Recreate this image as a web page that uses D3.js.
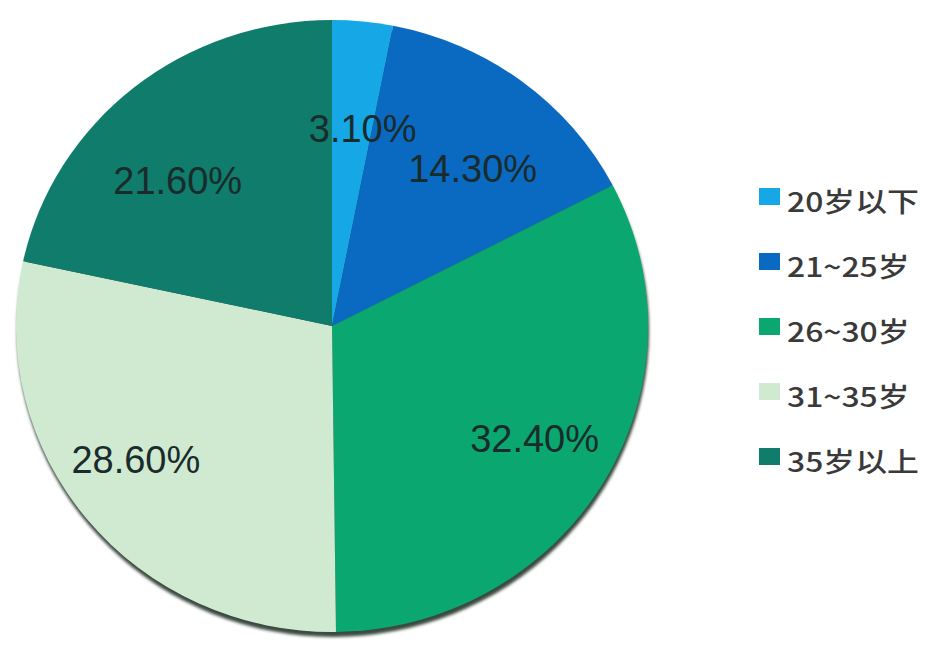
<!DOCTYPE html>
<html><head><meta charset="utf-8">
<script src="https://cdn.jsdelivr.net/npm/d3@7"></script>
<style>body{margin:0;background:#fff}</style>
</head><body>
<svg id="c" width="925" height="649"></svg>
<script>
const categories = ["20岁以下", "21~25岁", "26~30岁", "31~35岁", "35岁以上"];
const values = [3.1, 14.3, 32.4, 28.6, 21.6];
const labels = ["3.10%", "14.30%", "32.40%", "28.60%", "21.60%"];
const colors = ["#16a8e6", "#0a69c0", "#0ba770", "#d0ead2", "#0f7c6c"];

const svg = d3.select("#c");
const cx = 332, cy = 326, rx = 316, ry = 306;
const R = 306;
const defs = svg.append("defs");
defs.append("filter").attr("id","blur").append("feGaussianBlur").attr("stdDeviation", 1.5);

const g = svg.append("g").attr("transform", `translate(${cx},${cy}) scale(${rx/R},1)`);
g.append("circle").attr("cx", 1).attr("cy", 5).attr("r", R).attr("fill", "#3a4a40").attr("filter","url(#blur)");

const pie = d3.pie().sort(null).value(d => d)(values);
const arc = d3.arc().innerRadius(0).outerRadius(R);
g.selectAll("path.s").data(pie).join("path").attr("class","s")
  .attr("d", arc).attr("fill", (d,i) => colors[i]);

// label placement: fraction of radius and angular shift (deg) from slice mid-angle
const labelR = [0.65, 0.68, 0.74, 0.76, 0.68];
const labelShift = [3, 4, -1, 4, -7];
const lp = (d,i) => {
  const a = (d.startAngle + d.endAngle)/2 + labelShift[i]*Math.PI/180;
  return [cx + Math.sin(a)*R*labelR[i]*rx/R, cy - Math.cos(a)*R*labelR[i]];
};
svg.selectAll("text.l").data(pie).join("text").attr("class","l")
  .attr("x", (d,i) => lp(d,i)[0])
  .attr("y", (d,i) => lp(d,i)[1])
  .attr("text-anchor","middle").attr("dominant-baseline","central")
  .attr("font-family","Liberation Sans, sans-serif").attr("font-size", 38)
  .attr("fill","#1a2b2b").text((d,i) => labels[i]);

const lg = svg.append("g");
const rows = lg.selectAll("g").data(categories).join("g")
  .attr("transform", (d,i) => `translate(759,${188 + i*65})`);
rows.append("rect").attr("x",0).attr("y",0).attr("width",21).attr("height",17).attr("fill",(d,i)=>colors[i]);
rows.append("text").attr("transform","translate(28,13) scale(1.18,1)").attr("dominant-baseline","central")
  .attr("font-family","Noto Sans CJK SC, sans-serif").attr("font-size",27).attr("font-weight",500).attr("fill","#3a3a3a").text(d=>d);
</script>
</body></html>
